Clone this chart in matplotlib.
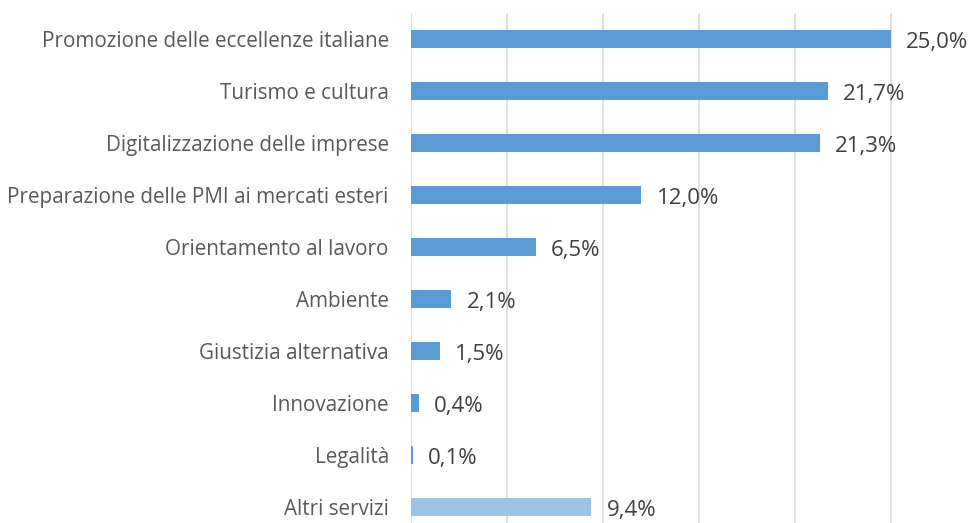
import matplotlib
matplotlib.use("Agg")
import matplotlib.pyplot as plt

categories = ["Promozione delle eccellenze italiane", "Turismo e cultura",
              "Digitalizzazione delle imprese", "Preparazione delle PMI ai mercati esteri",
              "Orientamento al lavoro", "Ambiente", "Giustizia alternativa",
              "Innovazione", "Legalità", "Altri servizi"]
values = [25.0, 21.7, 21.3, 12.0, 6.5, 2.1, 1.5, 0.4, 0.1, 9.4]
labels = ["25,0%", "21,7%", "21,3%", "12,0%", "6,5%", "2,1%", "1,5%", "0,4%", "0,1%", "9,4%"]
colors = ["#5B9BD5"] * 9 + ["#9DC3E6"]

plt.rcParams['font.family'] = ['Open Sans', 'DejaVu Sans']
W, H = 974, 523
fig = plt.figure(figsize=(W/100, H/100), dpi=100)
left = 411 / W
width = 576 / W
top = 13
bottom = 533
ax = fig.add_axes([left, (H - bottom) / H, width, (bottom - top) / H])

y = list(range(len(categories)))
ax.barh(y, values, height=0.35, color=colors, zorder=3)
ax.set_ylim(len(categories) - 0.5, -0.5)
ax.set_xlim(0, 30)
ax.set_xticks([0, 5, 10, 15, 20, 25, 30])
ax.xaxis.grid(True, color="#D9D9D9", linewidth=1.2, zorder=0)
ax.tick_params(axis='x', bottom=False, labelbottom=False)
ax.set_yticks(y)
ax.set_yticklabels(categories, fontsize=14.85, color="#595959")
ax.tick_params(axis='y', length=0, pad=16)
for s in ax.spines.values():
    s.set_visible(False)

for yi, v, lab in zip(y, values, labels):
    ax.annotate(lab, (v, yi), xytext=(11, -2.5), textcoords='offset points',
                ha='left', va='center', fontsize=16, color="#404040")

fig.savefig("out.png", dpi=100)
